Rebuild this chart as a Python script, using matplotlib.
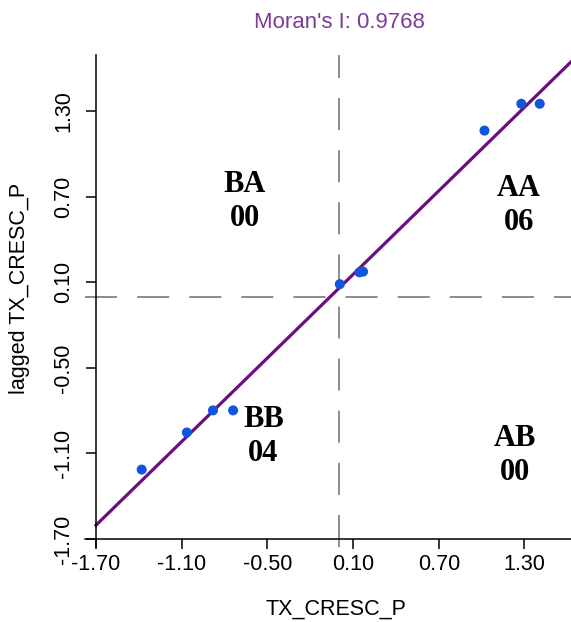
import numpy as np
import matplotlib.pyplot as plt

plt.rcParams['font.family'] = ['Liberation Sans', 'DejaVu Sans']

# standardized values and their spatial lags
tx_cresc = np.array([-1.38, -1.064, -0.881, -0.74, 0.007, 0.145, 0.17, 1.02, 1.278, 1.407])
lagged = np.array([-1.213, -0.953, -0.798, -0.798, 0.087, 0.17, 0.175, 1.164, 1.352, 1.352])
moran_i = 0.9768

ticks = [-1.70, -1.10, -0.50, 0.10, 0.70, 1.30]

# quadrant labels: name, count, position
quad_names = ['BA', 'AA', 'BB', 'AB']
quad_counts = ['00', '06', '04', '00']
quad_x = [-0.657, 1.262, -0.527, 1.234]
quad_y = [0.665, 0.639, -0.983, -1.113]

W, H = 571, 622
fig = plt.figure(figsize=(W / 100, H / 100), dpi=100)
ax = fig.add_axes([85 / W, 1 - 547 / H, (W - 85) / W, 492 / H])

ax.set_xlim(-1.777, 1.626)
ax.set_ylim(-1.756, 1.694)

# crossing axes like R base graphics
ax.spines['left'].set_position(('data', -1.70))
ax.spines['bottom'].set_position(('data', -1.70))
ax.spines['top'].set_visible(False)
ax.spines['right'].set_visible(False)
for s in ['left', 'bottom']:
    ax.spines[s].set_linewidth(1.1)

ax.axhline(0, color='#8c8c8c', lw=1.4, ls=(0, (16.5, 10.3)), zorder=1)
ax.axvline(0, color='#8c8c8c', lw=1.4, ls=(0, (16.5, 10.3)), zorder=1)

# regression line through the mean with slope = Moran's I
b = lagged.mean() - moran_i * tx_cresc.mean()
xl = np.array([-1.70, 1.70])
ax.plot(xl, b + moran_i * xl, color='#6c0e80', lw=2.3, zorder=2, clip_on=True)

ax.scatter(tx_cresc, lagged, s=52, color='#1155dd', edgecolors='none', zorder=3)

for name, cnt, qx, qy in zip(quad_names, quad_counts, quad_x, quad_y):
    ax.text(qx, qy, name + '\n' + cnt, ha='center', va='center', fontsize=22,
            fontweight='bold', family='Liberation Serif', linespacing=1.22)

ax.set_xticks(ticks)
ax.set_yticks(ticks)
ax.set_xticklabels(['%.2f' % t for t in ticks])
ax.set_yticklabels(['%.2f' % t for t in ticks], rotation=90, va='center')
ax.tick_params(axis='both', direction='out', length=7.5, width=1.1, labelsize=15.5,
               colors='black')
ax.tick_params(axis='x', pad=3)
ax.tick_params(axis='y', pad=8)

ax.set_xlabel('TX_CRESC_P', fontsize=15.5)
ax.xaxis.set_label_coords(0.516, -0.1057)
ax.set_ylabel('lagged TX_CRESC_P', fontsize=15.5)
ax.yaxis.set_label_coords(-0.113, 0.526)

fig.text(339 / W, 1 - 28.3 / H, "Moran's I: %.4f" % moran_i, ha='center', va='baseline',
         fontsize=16, color='#7d3c98')

fig.savefig('out.png', dpi=100)
